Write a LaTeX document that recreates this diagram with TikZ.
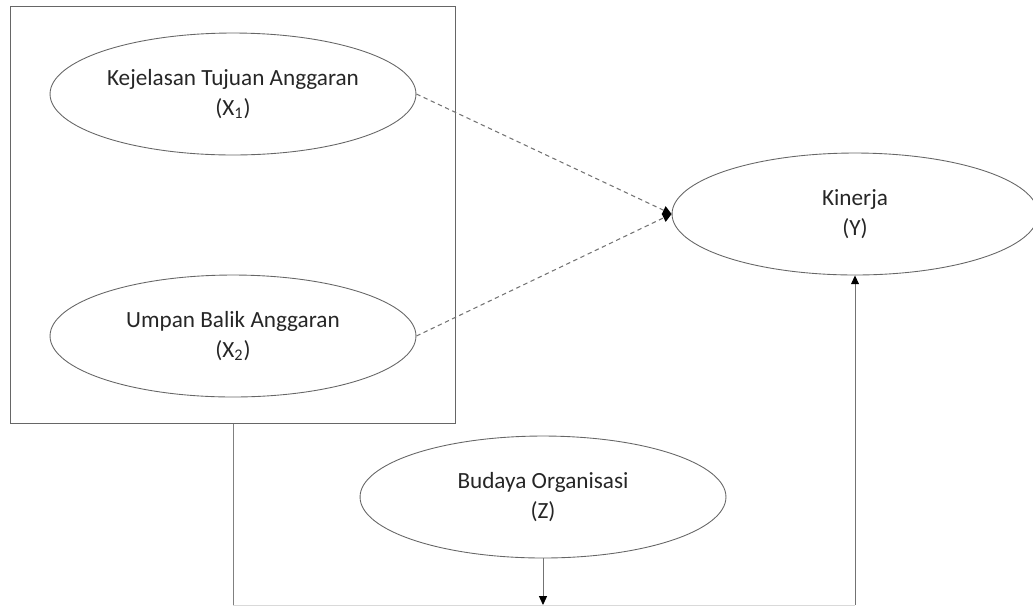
\documentclass[tikz,border=0pt]{standalone}
\usepackage{fontspec}
\setmainfont{Carlito}
\usetikzlibrary{arrows.meta,positioning,shapes.geometric}

\begin{document}
\begin{tikzpicture}[
    x=0.02cm, y=-0.02cm,
    construct/.style={draw=black!60, ellipse, line width=0.5pt,
                      minimum width=7.32cm, minimum height=2.44cm,
                      align=center, inner sep=0pt, text=black!85,
                      font=\fontsize{13.2}{17}\selectfont},
    group/.style={draw=black!60, line width=0.6pt, minimum width=8.92cm,
                  minimum height=8.36cm, inner sep=0pt},
    effect/.style={-{Triangle[length=5pt,width=5pt,color=black]},
                   draw=black!55, dash pattern=on 2.5pt off 2pt,
                   line width=0.6pt},
    moderation/.style={-{Triangle[length=5pt,width=4.5pt,color=black]},
                       draw=black!55, line width=0.5pt},
]
  \useasboundingbox (0,0) rectangle (1033,606);

  % Constructs
  \node[group] (grp) at (233,215) {};
  \node[construct] (x1) at (233,94)
    {Kejelasan Tujuan Anggaran\\(X\textsubscript{1})};
  \node[construct] (x2) at (233,336)
    {Umpan Balik Anggaran\\(X\textsubscript{2})};
  \node[construct] (y) at (855,214) {Kinerja\\(Y)};
  \node[construct] (z) at (543,497) {Budaya Organisasi\\(Z)};
  \coordinate (base) at (0,605);

  % Direct effects
  \draw[effect] (x1.east) -- (y.west);
  \draw[effect] (x2.east) -- (y.west);

  % Moderation
  \draw[draw=black!50, line width=0.5pt] (grp.south) -- (grp.south |- base);
  \draw[draw=black!15, line width=0.5pt] (grp.south |- base) -- (y.south |- base);
  \draw[moderation] (y.south |- base) -- (y.south);
  \draw[moderation] (z.south) -- (z.south |- base);
\end{tikzpicture}
\end{document}
